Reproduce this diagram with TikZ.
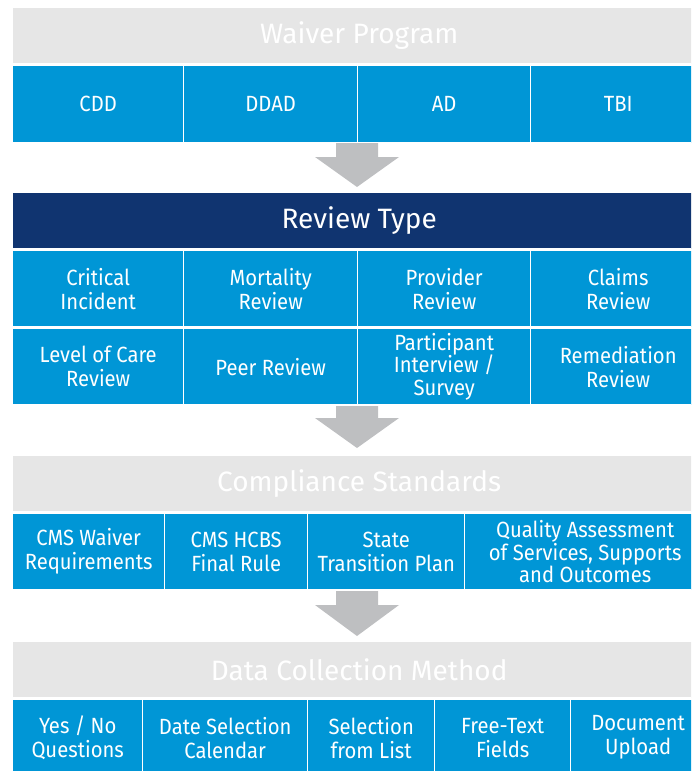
\documentclass[tikz,border=0pt]{standalone}
\usepackage{fontspec}
\setmainfont{Fira Sans}[FakeStretch=0.92]
\newfontfamily\headfont{Fira Sans}
\definecolor{cellblue}{RGB}{0,150,214}
\definecolor{navy}{RGB}{16,52,112}
\definecolor{headgray}{RGB}{230,230,230}
\definecolor{arrowgray}{RGB}{190,191,193}
\begin{document}
\begin{tikzpicture}[x=1pt,y=-1pt,
  box/.style 2 args={anchor=north west, minimum width=#1pt, minimum height=#2pt, inner sep=0pt},
  cell/.style={fill=cellblue, draw=white, line width=1.4pt, text=white, align=center,
    font=\fontsize{22}{24}\selectfont},
  header/.style={fill=headgray, draw=white, line width=1.4pt, text=white,
    font=\headfont\fontsize{28}{32}\selectfont},
  darkheader/.style={header, fill=navy},
  blockarrow/.style={fill=arrowgray}
]
\useasboundingbox (0,0) rectangle (691,771);
\clip (0,0) rectangle (691,771);

% ---- Waiver program ----
\node[header, box={693}{56}] (waiver) at (12,7) {Waiver Program};
\node[cell, box={171}{77}] (cdd)  at (12,65)  {CDD};
\node[cell, box={174}{77}] (ddad) at (183,65) {DDAD};
\node[cell, box={173}{77}] (ad)   at (357,65) {AD};
\node[cell, box={175}{77}] (tbi)  at (530,65) {TBI};

\coordinate (arr1) at (357,143);
\fill[blockarrow] (arr1) ++(-21,0) -- ++(42,0) -- ++(0,14) -- ++(21,0) -- ++(-42,30)
  -- ++(-42,-30) -- ++(21,0) -- cycle;

% ---- Review type ----
\node[darkheader, box={693}{56}] (review) at (12,192) {Review Type};
\node[cell, box={171}{76}] (crit)  at (12,250)  {Critical\\Incident};
\node[cell, box={174}{76}] (mort)  at (183,250) {Mortality\\Review};
\node[cell, box={173}{76}] (prov)  at (357,250) {Provider\\Review};
\node[cell, box={175}{76}] (claim) at (530,250) {Claims\\Review};
\node[cell, box={171}{76}] (loc)   at (12,328)  {Level of Care\\Review};
\node[cell, box={174}{76}] (peer)  at (183,328) {Peer Review};
\node[cell, box={173}{76}, font=\fontsize{22}{22.5}\selectfont] (part) at (357,328) {Participant\\Interview /\\Survey};
\node[cell, box={175}{76}] (remed) at (530,328) {Remediation\\Review};

\coordinate (arr2) at (357,406);
\fill[blockarrow] (arr2) ++(-21,0) -- ++(42,0) -- ++(0,12) -- ++(21,0) -- ++(-42,30)
  -- ++(-42,-30) -- ++(21,0) -- cycle;

% ---- Compliance standards ----
\node[header, box={693}{56}] (comp) at (12,455) {Compliance Standards};
\node[cell, box={152}{76}] (cmsw)  at (12,513)  {CMS Waiver\\Requirements};
\node[cell, box={143}{76}] (hcbs)  at (164,513) {CMS HCBS\\Final Rule};
\node[cell, box={157}{76}] (stp)   at (307,513) {State\\Transition Plan};
\node[cell, box={241}{76}, font=\fontsize{22}{22.5}\selectfont] (qual) at (464,513) {Quality Assessment\\of Services, Supports\\and Outcomes};

\coordinate (arr3) at (357,591);
\fill[blockarrow] (arr3) ++(-21,0) -- ++(42,0) -- ++(0,14) -- ++(21,0) -- ++(-42,31)
  -- ++(-42,-31) -- ++(21,0) -- cycle;

% ---- Data collection method ----
\node[header, box={693}{56}] (data) at (12,641) {Data Collection Method};
\node[cell, box={130}{76}] (yesno) at (12,699)  {Yes / No\\Questions};
\node[cell, box={165}{76}] (date)  at (142,699) {Date Selection\\Calendar};
\node[cell, box={127}{76}] (list)  at (307,699) {Selection\\from List};
\node[cell, box={136}{76}] (free)  at (434,699) {Free-Text\\Fields};
\node[cell, box={135}{76}] (doc)   at (570,699) {Document\\Upload};
\end{tikzpicture}
\end{document}
